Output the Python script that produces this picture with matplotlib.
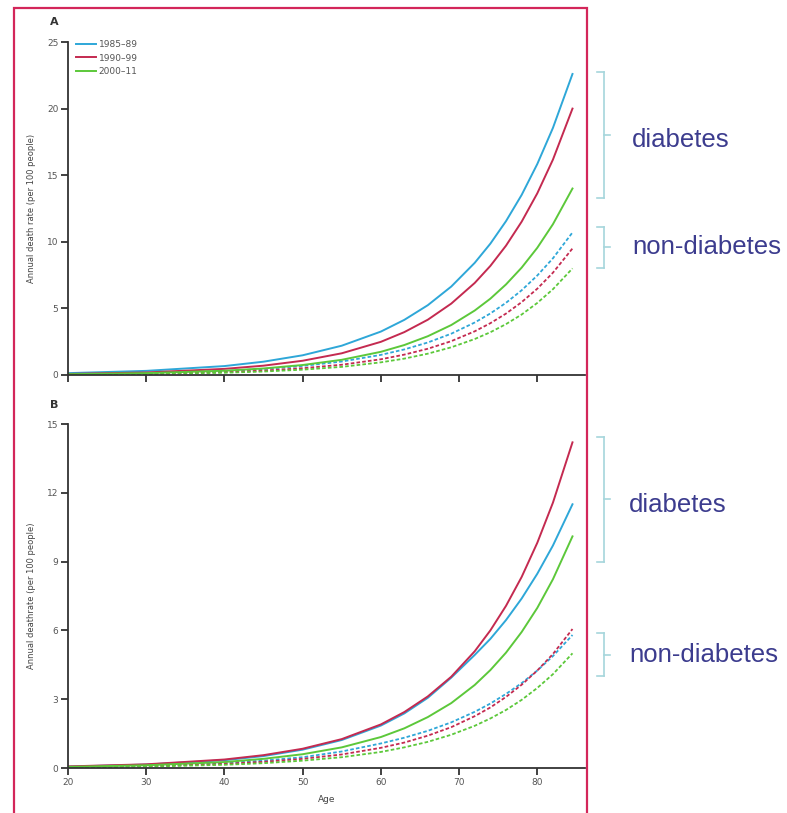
import matplotlib
matplotlib.use("Agg")
import matplotlib.pyplot as plt
from matplotlib.lines import Line2D
from matplotlib.patches import Rectangle

ages = [20, 30, 40, 45, 50, 55, 60, 63, 66, 69, 72, 74, 76, 78, 80, 82, 84.5]

# panel A (per 100 people)
a_diab_8589 = [0.14, 0.31, 0.67, 1.00, 1.48, 2.20, 3.26, 4.14, 5.24, 6.64, 8.42, 9.86, 11.55, 13.52, 15.84, 18.55, 22.6]
a_diab_9099 = [0.08, 0.19, 0.46, 0.70, 1.07, 1.63, 2.49, 3.22, 4.15, 5.36, 6.91, 8.19, 9.71, 11.51, 13.64, 16.17, 20.0]
a_diab_0011 = [0.06, 0.14, 0.32, 0.49, 0.75, 1.14, 1.74, 2.25, 2.91, 3.75, 4.84, 5.73, 6.80, 8.06, 9.55, 11.32, 14.0]
a_non_8589 = [0.06, 0.14, 0.30, 0.45, 0.68, 1.01, 1.51, 1.92, 2.44, 3.10, 3.94, 4.62, 5.42, 6.36, 7.47, 8.76, 10.7]
a_non_9099 = [0.04, 0.09, 0.22, 0.33, 0.51, 0.77, 1.18, 1.53, 1.97, 2.54, 3.28, 3.89, 4.61, 5.47, 6.48, 7.68, 9.5]
a_non_0011 = [0.03, 0.07, 0.17, 0.26, 0.40, 0.61, 0.95, 1.23, 1.60, 2.08, 2.70, 3.21, 3.82, 4.54, 5.41, 6.44, 8.0]

# panel B
b_diab_8589 = [0.06, 0.15, 0.34, 0.52, 0.80, 1.22, 1.85, 2.38, 3.06, 3.94, 4.93, 5.63, 6.45, 7.39, 8.47, 9.70, 11.5]
b_diab_9099 = [0.07, 0.16, 0.37, 0.56, 0.84, 1.26, 1.90, 2.44, 3.12, 3.98, 5.09, 6.00, 7.07, 8.33, 9.82, 11.57, 14.2]
b_diab_0011 = [0.05, 0.12, 0.26, 0.40, 0.60, 0.90, 1.35, 1.73, 2.22, 2.83, 3.62, 4.27, 5.03, 5.93, 6.98, 8.23, 10.1]
b_non_8589 = [0.04, 0.10, 0.22, 0.32, 0.47, 0.72, 1.07, 1.32, 1.62, 1.99, 2.45, 2.81, 3.23, 3.70, 4.25, 4.88, 5.8]
b_non_9099 = [0.04, 0.08, 0.18, 0.27, 0.40, 0.59, 0.88, 1.11, 1.41, 1.78, 2.26, 2.64, 3.10, 3.63, 4.25, 4.97, 6.06]
b_non_0011 = [0.03, 0.06, 0.14, 0.21, 0.32, 0.47, 0.70, 0.90, 1.14, 1.45, 1.84, 2.16, 2.53, 2.97, 3.49, 4.09, 5.0]

periods = ["1985\u201389", "1990\u201399", "2000\u201311"]
colors = ["#2ea7d8", "#c42a50", "#5cc83a"]
dash = (0, (2, 1.2))

W, H = 787, 813
fig = plt.figure(figsize=(W / 100, H / 100), dpi=100)

def fx(px):
    return px / W

def fy(py):
    return 1 - py / H

axA = fig.add_axes([fx(68), fy(375), fx(585) - fx(68), fy(42) - fy(375)])
axB = fig.add_axes([fx(68), fy(768), fx(585) - fx(68), fy(424) - fy(768)])

for ax, diab, non in [(axA, [a_diab_8589, a_diab_9099, a_diab_0011], [a_non_8589, a_non_9099, a_non_0011]),
                      (axB, [b_diab_8589, b_diab_9099, b_diab_0011], [b_non_8589, b_non_9099, b_non_0011])]:
    for i in range(3):
        ax.plot(ages, diab[i], color=colors[i], lw=1.4, label=periods[i])
        ax.plot(ages, non[i], color=colors[i], lw=1.3, ls=dash)
    ax.set_xlim(20, 86.1)
    ax.spines["top"].set_visible(False)
    ax.spines["right"].set_visible(False)
    ax.spines["left"].set_color("#333333")
    ax.spines["bottom"].set_color("#333333")
    ax.spines["left"].set_linewidth(1.3)
    ax.spines["bottom"].set_linewidth(1.3)
    ax.tick_params(direction="out", length=5, width=1.3, color="#333333",
                   labelsize=6.5, labelcolor="#555555", pad=2)
    ax.set_xticks([20, 30, 40, 50, 60, 70, 80])

axA.set_ylim(0, 25)
axA.set_yticks([0, 5, 10, 15, 20, 25])
axA.tick_params(axis="x", labelbottom=False)
axA.set_ylabel("Annual death rate (per 100 people)", fontsize=6, color="#444444", labelpad=8)
axA.legend(loc="upper left", bbox_to_anchor=(0.0, 1.03), frameon=False, fontsize=6.5,
           handlelength=2.2, handletextpad=0.3, labelspacing=0.5, labelcolor="#555555")

axB.set_ylim(0, 15)
axB.set_yticks([0, 3, 6, 9, 12, 15])
axB.set_ylabel("Annual deathrate (per 100 people)", fontsize=6, color="#444444", labelpad=8)
axB.set_xlabel("Age", fontsize=6.5, color="#444444", labelpad=6)

fig.text(fx(50), fy(22), "A", fontsize=8, fontweight="bold", color="#333333", va="center")
fig.text(fx(50), fy(405), "B", fontsize=8, fontweight="bold", color="#333333", va="center")

# red frame round the figure
fig.patches.append(Rectangle((fx(14), -0.02), fx(587) - fx(14), fy(8) + 0.02,
                             transform=fig.transFigure, fill=False,
                             edgecolor="#d3265a", lw=1.6))

# brackets and notes on the right
brk = "#a6d6dc"
def bracket(top, bottom):
    mid = (top + bottom) / 2
    for xs, ys in [([604, 604], [top, bottom]), ([597, 604], [top, top]),
                   ([597, 604], [bottom, bottom]), ([604, 610], [mid, mid])]:
        fig.add_artist(Line2D([fx(x) for x in xs], [fy(y) for y in ys],
                              transform=fig.transFigure, color=brk, lw=1.2))

bracket(72, 198)
bracket(227, 268)
bracket(437, 562)
bracket(633, 676)

note = dict(fontsize=18.5, color="#3c3c8e", family="Liberation Sans", va="center")
fig.text(fx(632), fy(140), "diabetes", **note)
fig.text(fx(632), fy(247), "non-diabetes", **note)
fig.text(fx(629), fy(505), "diabetes", **note)
fig.text(fx(629), fy(655), "non-diabetes", **note)

fig.savefig("out.png", dpi=100)
